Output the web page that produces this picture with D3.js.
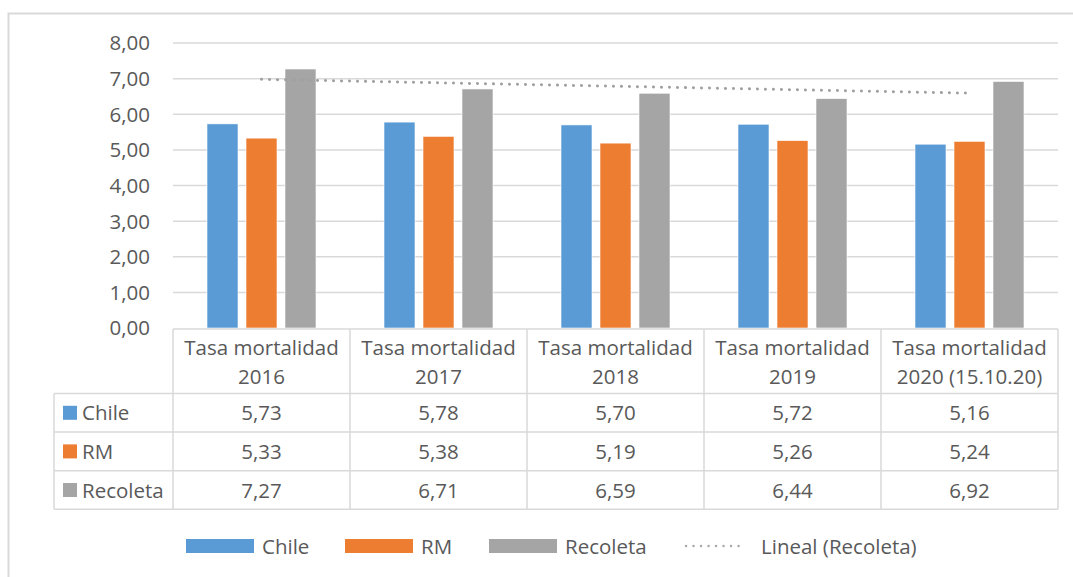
<!DOCTYPE html>
<html><head><meta charset="utf-8">
<script src="https://cdn.jsdelivr.net/npm/d3@7"></script>
<style>
html,body{margin:0;padding:0;background:#fff;}
svg{display:block;font-family:"Open Sans","Noto Sans",sans-serif;}
</style></head>
<body>
<svg id="chart" width="1073" height="577"></svg>
<script>
const categories = ["Tasa mortalidad 2016","Tasa mortalidad 2017","Tasa mortalidad 2018","Tasa mortalidad 2019","Tasa mortalidad 2020 (15.10.20)"];
const categoryLines = [["Tasa mortalidad","2016"],["Tasa mortalidad","2017"],["Tasa mortalidad","2018"],["Tasa mortalidad","2019"],["Tasa mortalidad","2020 (15.10.20)"]];
const seriesNames = ["Chile","RM","Recoleta"];
const chileValues = [5.73,5.78,5.70,5.72,5.16];
const rmValues = [5.33,5.38,5.19,5.26,5.24];
const recoletaValues = [7.27,6.71,6.59,6.44,6.92];
const yTicks = [0,1,2,3,4,5,6,7,8];
const colors = ["#5B9BD5","#ED7D31","#A5A5A5"];
const trendLabel = "Lineal (Recoleta)";

(function(){
const series = [chileValues, rmValues, recoletaValues];
const svg = d3.select("#chart");
const textColor = "#595959", gridColor = "#D9D9D9";
const fs = "20.5px";
const loc = d3.formatLocale({decimal:",",thousands:".",grouping:[3],currency:["",""]});
const fmt = loc.format(".2f");

// outer frame
svg.append("rect").attr("x",8.5).attr("y",13.5).attr("width",1100).attr("height",600)
  .attr("fill","none").attr("stroke",gridColor).attr("stroke-width",2);

const pLeft = 173, pRight = 1058, pTop = 43, pBottom = 328;
const x = d3.scaleBand().domain(categories).range([pLeft,pRight]).padding(0);
const y = d3.scaleLinear().domain([0,8]).range([pBottom,pTop]);
const xs = d3.scaleBand().domain(seriesNames).range([34,143]).paddingInner(0.205).paddingOuter(0);

// gridlines
svg.append("g").selectAll("line").data(yTicks.filter(d=>d>0)).join("line")
  .attr("x1",pLeft).attr("x2",pRight).attr("y1",d=>y(d)).attr("y2",d=>y(d))
  .attr("stroke",gridColor).attr("stroke-width",1.5);

// y axis
const yAxis = svg.append("g").attr("transform",`translate(${pLeft},0)`)
  .call(d3.axisLeft(y).tickValues(yTicks).tickFormat(fmt).tickSize(0).tickPadding(23));
yAxis.select(".domain").remove();
yAxis.selectAll("text").attr("fill",textColor).attr("dy","0.34em").style("font-size",fs).style("font-family","'Open Sans','Noto Sans',sans-serif");

// bars
series.forEach((vals,si)=>{
  svg.append("g").selectAll("rect").data(vals).join("rect")
    .attr("x",(d,i)=>x(categories[i])+xs(seriesNames[si]))
    .attr("y",d=>y(d))
    .attr("width",xs.bandwidth())
    .attr("height",d=>y(0)-y(d))
    .attr("fill",colors[si])
    .attr("stroke","#fff").attr("stroke-width",0.6);
});

// linear trendline for Recoleta
const n = recoletaValues.length;
const xi = d3.range(1,n+1);
const mx = d3.mean(xi), my = d3.mean(recoletaValues);
const slope = d3.sum(xi.map((v,i)=>(v-mx)*(recoletaValues[i]-my)))/d3.sum(xi.map(v=>(v-mx)*(v-mx)));
const intercept = my - slope*mx;
const trendPts = [[1,intercept+slope],[n,intercept+slope*n]];
svg.append("line")
  .attr("x1",x(categories[0])+x.bandwidth()/2)
  .attr("x2",x(categories[n-1])+x.bandwidth()/2)
  .attr("y1",y(trendPts[0][1])).attr("y2",y(trendPts[1][1]))
  .attr("stroke","#A0A0A0").attr("stroke-width",3)
  .attr("stroke-linecap","round").attr("stroke-dasharray","0.1 7.9");

// data table
const headTop = pBottom+1, headBot = 393.5, rowH = 38.6;
const tableLeft = 54;
const tbl = svg.append("g");
const tableBottom = headBot + rowH*3;
const colEdges = categories.map(c=>x(c)).concat([pRight]);
tbl.selectAll("line.v").data(colEdges).join("line").attr("class","v")
  .attr("x1",d=>d).attr("x2",d=>d).attr("y1",headTop).attr("y2",tableBottom)
  .attr("stroke",gridColor).attr("stroke-width",1.5);
tbl.append("line").attr("x1",tableLeft).attr("x2",tableLeft).attr("y1",headBot).attr("y2",tableBottom)
  .attr("stroke",gridColor).attr("stroke-width",1.5);
tbl.append("line").attr("x1",pLeft).attr("x2",pRight).attr("y1",headTop).attr("y2",headTop).attr("stroke",gridColor).attr("stroke-width",1.5);
[0,1,2,3].forEach(k=>{
  tbl.append("line").attr("x1",tableLeft).attr("x2",pRight)
    .attr("y1",headBot+rowH*k).attr("y2",headBot+rowH*k)
    .attr("stroke",gridColor).attr("stroke-width",1.5);
});
categoryLines.forEach((lines,i)=>{
  const cx = x(categories[i])+x.bandwidth()/2;
  lines.forEach((t,j)=>{
    tbl.append("text").attr("x",cx).attr("y",355+j*29).attr("text-anchor","middle")
      .attr("fill",textColor).style("font-size",fs).text(t);
  });
});
series.forEach((vals,si)=>{
  const rowMid = headBot + rowH*si + rowH/2;
  tbl.append("rect").attr("x",63).attr("y",rowMid-7).attr("width",14).attr("height",14).attr("fill",colors[si]);
  tbl.append("text").attr("x",82).attr("y",rowMid+7.5).attr("fill",textColor).style("font-size",fs).text(seriesNames[si]);
  vals.forEach((v,i)=>{
    tbl.append("text").attr("x",x(categories[i])+x.bandwidth()/2).attr("y",rowMid+7.5)
      .attr("text-anchor","middle").attr("fill",textColor).style("font-size",fs).text(fmt(v));
  });
});

// legend
const legY = 546;
const legItems = [
  {name:"Chile",type:"rect",color:colors[0],x:186},
  {name:"RM",type:"rect",color:colors[1],x:345},
  {name:"Recoleta",type:"rect",color:colors[2],x:489},
  {name:trendLabel,type:"line",color:"#A8A8A8",x:686}
];
const leg = svg.append("g");
legItems.forEach(it=>{
  if(it.type==="rect"){
    leg.append("rect").attr("x",it.x).attr("y",legY-7).attr("width",68).attr("height",14).attr("fill",it.color);
    leg.append("text").attr("x",it.x+76).attr("y",legY+7.5)
      .attr("fill",textColor).style("font-size",fs).text(it.name);
  } else {
    leg.append("line").attr("x1",it.x).attr("x2",it.x+60).attr("y1",legY).attr("y2",legY)
      .attr("stroke",it.color).attr("stroke-width",2.4).attr("stroke-linecap","round").attr("stroke-dasharray","0.1 7.4");
    leg.append("text").attr("x",it.x+75).attr("y",legY+7.5)
      .attr("fill",textColor).style("font-size",fs).text(it.name);
  }
});
})();
</script>
</body></html>
